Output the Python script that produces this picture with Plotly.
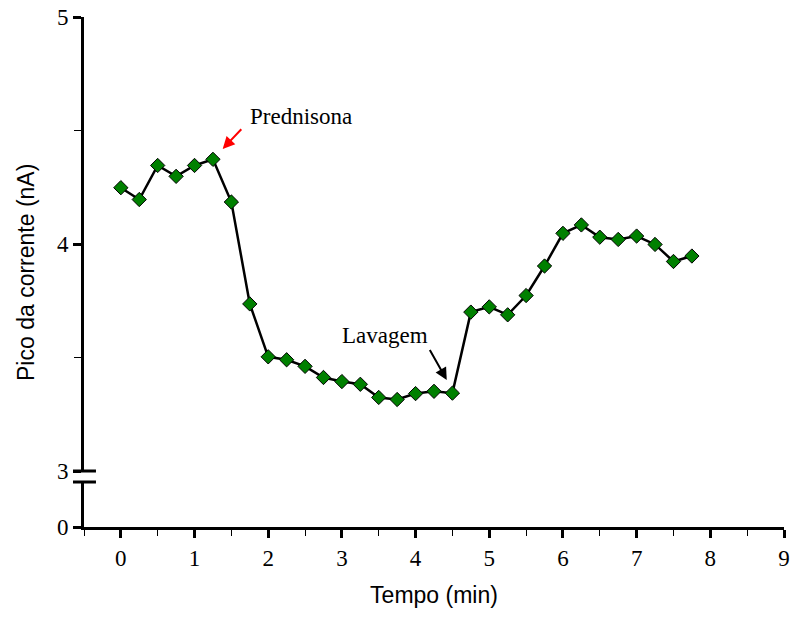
import plotly.graph_objects as go

tempo = [0, 0.25, 0.5, 0.75, 1.0, 1.25, 1.5, 1.75, 2.0, 2.25, 2.5, 2.75, 3.0, 3.25,
         3.5, 3.75, 4.0, 4.25, 4.5, 4.75, 5.0, 5.25, 5.5, 5.75, 6.0, 6.25, 6.5,
         6.75, 7.0, 7.25, 7.5, 7.75]
corrente = [4.248, 4.196, 4.346, 4.298, 4.346, 4.373, 4.185, 3.736, 3.503, 3.490,
            3.461, 3.412, 3.394, 3.382, 3.324, 3.315, 3.341, 3.351, 3.343, 3.700,
            3.723, 3.688, 3.773, 3.903, 4.047, 4.084, 4.030, 4.020, 4.035, 3.998,
            3.923, 3.947]
x_ticks = list(range(0, 10))
y_ticks_top = [3, 4, 5]
y_ticks_bottom = [0]

serif = "Liberation Serif, Times New Roman, serif"
sans = "Liberation Sans, Arial, sans-serif"

fig = go.Figure()
# invisible trace to create the bottom (broken-axis) subplot
fig.add_trace(go.Scatter(x=[None], y=[None], xaxis="x", yaxis="y2",
                         showlegend=False, hoverinfo="skip"))
fig.add_trace(go.Scatter(
    x=tempo, y=corrente, mode="lines+markers",
    line=dict(color="black", width=2.5),
    marker=dict(symbol="diamond", size=11, color="#008000",
                line=dict(color="black", width=1)),
    xaxis="x2", yaxis="y", showlegend=False, cliponaxis=False))

top_lo = (527 - 471) / 510
bot_hi = (527 - 482) / 510

fig.update_layout(
    width=791, height=621,
    margin=dict(l=84, r=7, t=17, b=94, autoexpand=False),
    plot_bgcolor="white", paper_bgcolor="white",
    xaxis=dict(range=[-0.5, 9], anchor="y2", tickvals=x_ticks, automargin=False,
               ticks="outside", ticklen=8, tickwidth=2.5, tickcolor="black",
               showline=True, linecolor="black", linewidth=3,
               showgrid=False, zeroline=False,
               minor=dict(tickvals=[i - 0.5 for i in x_ticks], ticks="outside",
                          ticklen=6, tickwidth=1, tickcolor="black"),
               tickfont=dict(family=serif, size=23, color="black"),
               title=dict(text="Tempo (min)", font=dict(family=sans, size=23, color="black"),
                          standoff=18)),
    xaxis2=dict(range=[-0.5, 9], anchor="y", matches="x", visible=False,
                showgrid=False, zeroline=False),
    yaxis=dict(domain=[top_lo, 1], range=[3, 5], anchor="x2", tickvals=y_ticks_top,
               automargin=False,
               ticks="outside", ticklen=8, tickwidth=2.5, tickcolor="black",
               showline=True, linecolor="black", linewidth=3,
               showgrid=False, zeroline=False,
               minor=dict(tickvals=[3.5, 4.5], ticks="outside",
                          ticklen=7, tickwidth=1, tickcolor="black"),
               tickfont=dict(family=serif, size=23, color="black")),
    yaxis2=dict(domain=[0, bot_hi], range=[0, 1], anchor="x", tickvals=y_ticks_bottom,
                automargin=False,
                ticks="outside", ticklen=8, tickwidth=2.5, tickcolor="black",
                showline=True, linecolor="black", linewidth=3,
                showgrid=False, zeroline=False,
                tickfont=dict(family=serif, size=23, color="black")),
)

# y-axis title centred on the whole (broken) axis
fig.add_annotation(x=-0.0829, y=0.5, xref="paper", yref="paper",
                   text="Pico da corrente (nA)", textangle=-90, showarrow=False,
                   xanchor="center", yanchor="middle",
                   font=dict(family=sans, size=23, color="black"))

# axis break marks
for yp in [top_lo, bot_hi]:
    fig.add_shape(type="line", xref="paper", yref="paper",
                  x0=-0.0157, x1=0.0171, y0=yp, y1=yp,
                  line=dict(color="black", width=3))

# arrows
fig.add_annotation(x=1.382, y=4.419, ax=1.654, ay=4.512, xref="x2", yref="y",
                   axref="x2", ayref="y", text="", showarrow=True,
                   arrowhead=2, arrowsize=1.2, arrowwidth=2, arrowcolor="#FF0000")
fig.add_annotation(x=4.423, y=3.401, ax=4.182, ay=3.540, xref="x2", yref="y",
                   axref="x2", ayref="y", text="", showarrow=True,
                   arrowhead=2, arrowsize=1.2, arrowwidth=2, arrowcolor="black")
fig.add_annotation(x=1.726, y=4.561, xref="x2", yref="y", text="Prednisona",
                   showarrow=False, xanchor="left", yanchor="middle",
                   font=dict(family=serif, size=23, color="black"))
fig.add_annotation(x=2.974, y=3.599, xref="x2", yref="y", text="Lavagem",
                   showarrow=False, xanchor="left", yanchor="middle",
                   font=dict(family=serif, size=23, color="black"))

fig.write_html("out.html")
